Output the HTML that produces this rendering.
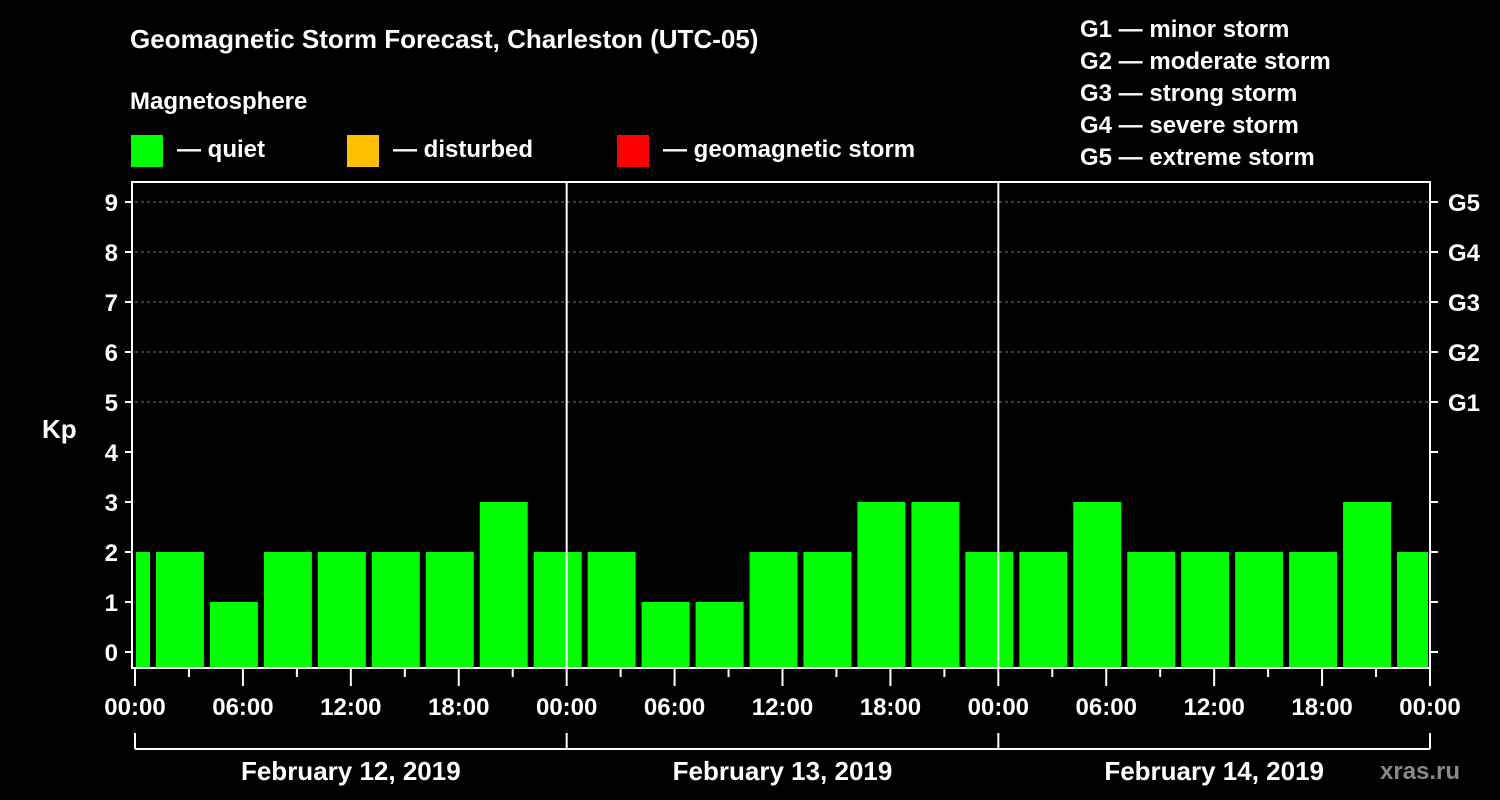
<!DOCTYPE html>
<html><head><meta charset="utf-8"><style>
html,body{margin:0;padding:0;background:#000;}
svg{display:block;font-family:"Liberation Sans",Arial,sans-serif;font-weight:bold;}
</style></head><body>
<svg id="chart" width="1500" height="800" viewBox="0 0 1500 800">
<rect width="1500" height="800" fill="#000"/>
<text x="130" y="48" fill="#fff" font-size="26">Geomagnetic Storm Forecast, Charleston (UTC-05)</text>
<text x="130" y="109" fill="#fff" font-size="24">Magnetosphere</text>
<g><rect x="131" y="135" width="32" height="32" fill="#00ff00"/><text x="177" y="157" fill="#fff" font-size="24">— quiet</text></g>
<g><rect x="347" y="135" width="32" height="32" fill="#ffc000"/><text x="393" y="157" fill="#fff" font-size="24">— disturbed</text></g>
<g><rect x="617" y="135" width="32" height="32" fill="#ff0000"/><text x="663" y="157" fill="#fff" font-size="24">— geomagnetic storm</text></g>
<g fill="#fff" font-size="24">
<text x="1080" y="37">G1 — minor storm</text>
<text x="1080" y="69">G2 — moderate storm</text>
<text x="1080" y="101">G3 — strong storm</text>
<text x="1080" y="133">G4 — severe storm</text>
<text x="1080" y="165">G5 — extreme storm</text>
</g>
<text x="42" y="438" fill="#fff" font-size="26">Kp</text>
<text x="1380" y="779" fill="#888" font-size="24">xras.ru</text>
<g id="plot"></g>
</svg>
<script>
const kpValues=[2,2,1,2,2,2,2,3,2,2,1,1,2,2,3,3,2,2,3,2,2,2,2,3,2];
const yTicks=[0,1,2,3,4,5,6,7,8,9];
const gLabels=["G1","G2","G3","G4","G5"];
const gLevels=[5,6,7,8,9];
const xTickLabels=["00:00","06:00","12:00","18:00","00:00","06:00","12:00","18:00","00:00","06:00","12:00","18:00","00:00"];
const dayLabels=["February 12, 2019","February 13, 2019","February 14, 2019"];
const NS="http://www.w3.org/2000/svg";
const L=135,R=1430,T=182,B=668,HOURS=72;
const xs=h=>L+(R-L)*h/HOURS;
const ys=k=>652-50*k;
const g=document.getElementById('plot');
function mk(tag,attrs,parent){const e=document.createElementNS(NS,tag);for(const k in attrs)e.setAttribute(k,attrs[k]);(parent||g).appendChild(e);return e;}
// grid
gLevels.forEach(v=>{const e=mk('line',{x1:L,x2:R,y1:ys(v),y2:ys(v),stroke:'#777','stroke-dasharray':'3,3'});

});
// bars
kpValues.forEach((v,i)=>{const c=-0.5+3*i;let x0=xs(c-1.333),x1=xs(c+1.333);x0=Math.max(x0,L+1);x1=Math.min(x1,R-2);
const col=v>=5?'#ff0000':(v>=4?'#ffc000':'#00ff00');
const r=mk('rect',{x:x0,y:ys(v),width:x1-x0,height:B-ys(v),fill:col});

});
// day separators
[24,48].forEach(h=>{const e=mk('line',{x1:xs(h),x2:xs(h),y1:T,y2:B,stroke:'#fff','stroke-width':2});

});
// frame
const fr=mk('rect',{x:132,y:T,width:R-132,height:B-T,fill:'none',stroke:'#fff','stroke-width':2});


// y ticks
yTicks.forEach(v=>{mk('line',{x1:125,x2:132,y1:ys(v),y2:ys(v),stroke:'#fff','stroke-width':2});
mk('line',{x1:R,x2:R+8,y1:ys(v),y2:ys(v),stroke:'#fff','stroke-width':2});
const t=mk('text',{x:118,y:ys(v)+9,fill:'#fff','font-size':24,'text-anchor':'end'});t.textContent=v;

});
gLabels.forEach((s,i)=>{const t=mk('text',{x:1448,y:ys(gLevels[i])+9,fill:'#fff','font-size':24});t.textContent=s;

});
// x ticks
for(let h=0;h<=HOURS;h+=3){const major=h%6===0;mk('line',{x1:xs(h),x2:xs(h),y1:B,y2:B+(major?18:9),stroke:'#fff','stroke-width':2});}
xTickLabels.forEach((s,i)=>{const t=mk('text',{x:xs(i*6),y:715,fill:'#fff','font-size':24,'text-anchor':'middle'});t.textContent=s;

});
// day bracket
mk('line',{x1:L,x2:R,y1:749,y2:749,stroke:'#fff','stroke-width':2});
[0,24,48,72].forEach(h=>mk('line',{x1:xs(h),x2:xs(h),y1:733,y2:749,stroke:'#fff','stroke-width':2}));
dayLabels.forEach((s,i)=>{const t=mk('text',{x:xs(i*24+12),y:780,fill:'#fff','font-size':26,'text-anchor':'middle'});t.textContent=s;

});
</script>
</body></html>
